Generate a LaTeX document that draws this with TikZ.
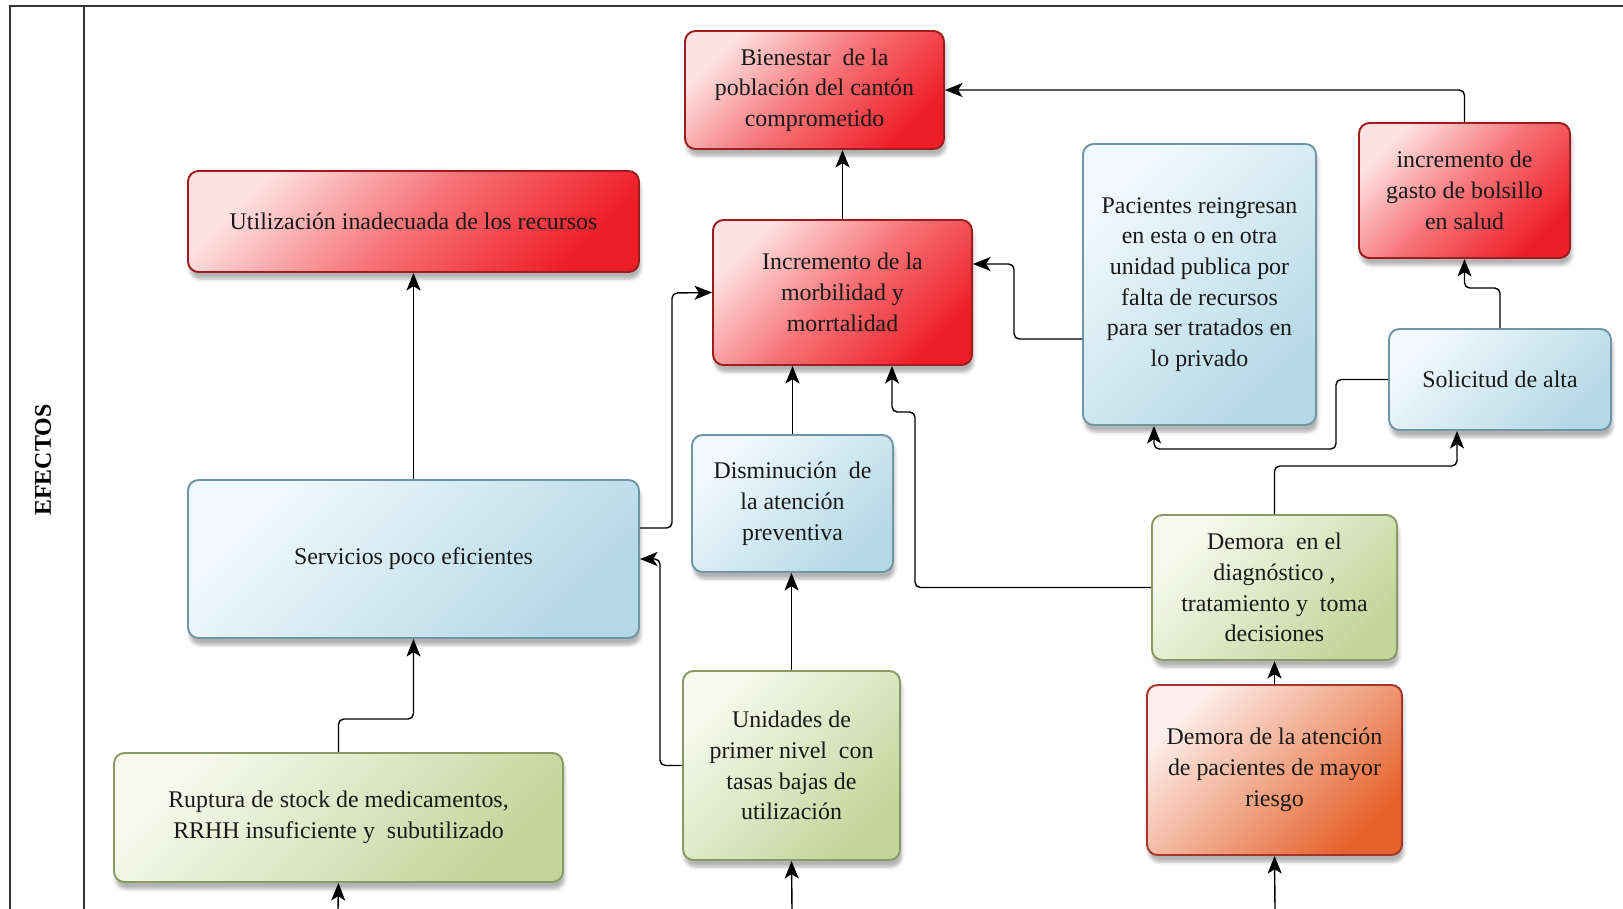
\documentclass[tikz,border=0pt]{standalone}
\usepackage{fontspec}
\setmainfont{Liberation Serif}
\usetikzlibrary{arrows.meta,shadows.blur}

\definecolor{redlight}{HTML}{FDE2E2}
\definecolor{redmid}{HTML}{F67276}
\definecolor{reddark}{HTML}{EE1E28}
\definecolor{redline}{HTML}{9E1C1C}
\definecolor{bluelight}{HTML}{F2F9FC}
\definecolor{bluedark}{HTML}{B4D9E6}
\definecolor{blueline}{HTML}{6F96A4}
\definecolor{greenlight}{HTML}{F7F9EE}
\definecolor{greendark}{HTML}{C3D59A}
\definecolor{greenline}{HTML}{8A9A62}
\definecolor{orangelight}{HTML}{FCEFEB}
\definecolor{orangedark}{HTML}{E6622C}
\definecolor{orangeline}{HTML}{A5352A}

\def\px{0.02cm}

\begin{document}
\begin{tikzpicture}[x=\px, y=-\px, >={Stealth[length=10pt,width=8pt,inset=2.5pt]},
    font=\fontsize{13.6}{17.5}\selectfont]
    \tikzstyle{box}=[rectangle, rounded corners=6pt, line width=1.1pt, align=center,
        text=black!90, blur shadow={shadow xshift=1pt, shadow yshift=-4pt, shadow opacity=30}]
    \tikzstyle{redbox}=[box, draw=redline, top color=redlight, bottom color=reddark, middle color=redmid, shading angle=45]
    \tikzstyle{bluebox}=[box, draw=blueline, top color=bluelight, bottom color=bluedark, shading angle=45]
    \tikzstyle{greenbox}=[box, draw=greenline, top color=greenlight, bottom color=greendark, shading angle=45]
    \tikzstyle{orangebox}=[box, draw=orangeline, top color=orangelight, bottom color=orangedark, shading angle=45]
    \tikzstyle{arr}=[->, black, line width=0.8pt, rounded corners=3pt]

    \useasboundingbox (0,0) rectangle (1623,909);

    % Draw the frame and its side label
    \draw[line width=0.8pt, black!80] (1623,6) -- (10,6) -- (10,909);
    \draw[line width=0.8pt, black!80] (84,6) -- (84,909);
    \node[rotate=90, font=\fontsize{13.6}{15}\selectfont\bfseries] (efectos) at (43,460) {EFECTOS};

    % Draw the red effect boxes
    \node[redbox, minimum width=259*\px, minimum height=118*\px] (bien) at (814.5,90)
        {Bienestar\ \ de la\\población del cantón\\comprometido};
    \node[redbox, minimum width=451*\px, minimum height=101*\px] (util) at (413.5,221.5)
        {Utilización inadecuada de los recursos};
    \node[redbox, minimum width=259*\px, minimum height=145*\px] (morb) at (842.5,292.5)
        {Incremento de la\\morbilidad y\\morrtalidad};
    \node[redbox, minimum width=211*\px, minimum height=135*\px] (gasto) at (1464.5,190.5)
        {incremento de\\gasto de bolsillo\\en salud};

    % Draw the blue boxes
    \node[bluebox, minimum width=233*\px, minimum height=281*\px] (pac) at (1199.5,284.5)
        {Pacientes reingresan\\en esta o en otra\\unidad publica por\\falta de recursos\\para ser tratados en\\lo privado};
    \node[bluebox, minimum width=222*\px, minimum height=101*\px] (sol) at (1500,379.5)
        {Solicitud de alta};
    \node[bluebox, minimum width=451*\px, minimum height=158*\px] (serv) at (413.5,559)
        {Servicios poco eficientes};
    \node[bluebox, minimum width=201*\px, minimum height=137*\px] (dism) at (792.5,503.5)
        {Disminución\ \ de\\la atención\\preventiva};

    % Draw the green and orange cause boxes
    \node[greenbox, minimum width=245*\px, minimum height=145*\px] (diag) at (1274.5,587.5)
        {Demora\ \ en el\\diagnóstico ,\\tratamiento y\ \ toma\\decisiones};
    \node[greenbox, minimum width=217*\px, minimum height=189*\px] (unid) at (791.5,765.5)
        {Unidades de\\primer nivel\ \ con\\tasas bajas de\\utilización};
    \node[greenbox, minimum width=449*\px, minimum height=129*\px] (rupt) at (338.5,817.5)
        {Ruptura de stock de medicamentos,\\RRHH insuficiente y\ \ subutilizado};
    \node[orangebox, minimum width=255*\px, minimum height=170*\px] (riesgo) at (1274.5,770)
        {Demora de la atención\\de pacientes de mayor\\riesgo};

    % Free ends of the arrows coming from below
    \coordinate (in-rupt) at (338,909);
    \coordinate (in-unid) at (792,909);
    \coordinate (in-riesgo) at (1275,909);

    % Connect the boxes
    \draw[arr] (morb.north) -- (morb.north |- bien.south);
    \draw[arr] (gasto.north) |- (bien.east);
    \draw[arr] (serv.north) -- (util.south);
    \draw[arr] (serv.east |- 0,528) -| (672,293) -- (morb.west);
    \draw[arr] (pac.west |- 0,339) -| (1014,264) -- (morb.east |- 0,264);
    \draw[arr] (dism.north) -- (dism.north |- morb.south);
    \draw[arr] (diag.west) -| (915,412) -| (morb.south -| 892,0);
    \draw[arr] (diag.north) |- (1457,466) -- (sol.south -| 1457,0);
    \draw[arr] (sol.west) -| (1336,449) -| (pac.south -| 1154,0);
    \draw[arr] (sol.north) |- (gasto.south |- 0,288) -- (gasto.south);
    \draw[arr] (unid.north) -- (unid.north |- dism.south);
    \draw[arr] (unid.west) -| (serv.east -| 660,0) -- (serv.east);
    \draw[arr] (rupt.north) |- (serv.south |- 0,719) -- (serv.south);
    \draw[arr] (riesgo.north) -- (diag.south);

    % Arrows entering from the lower edge
    \draw[arr] (in-rupt) -- (rupt.south);
    \draw[arr] (in-unid) -- (unid.south);
    \draw[arr] (in-riesgo) -- (riesgo.south);
\end{tikzpicture}
\end{document}
